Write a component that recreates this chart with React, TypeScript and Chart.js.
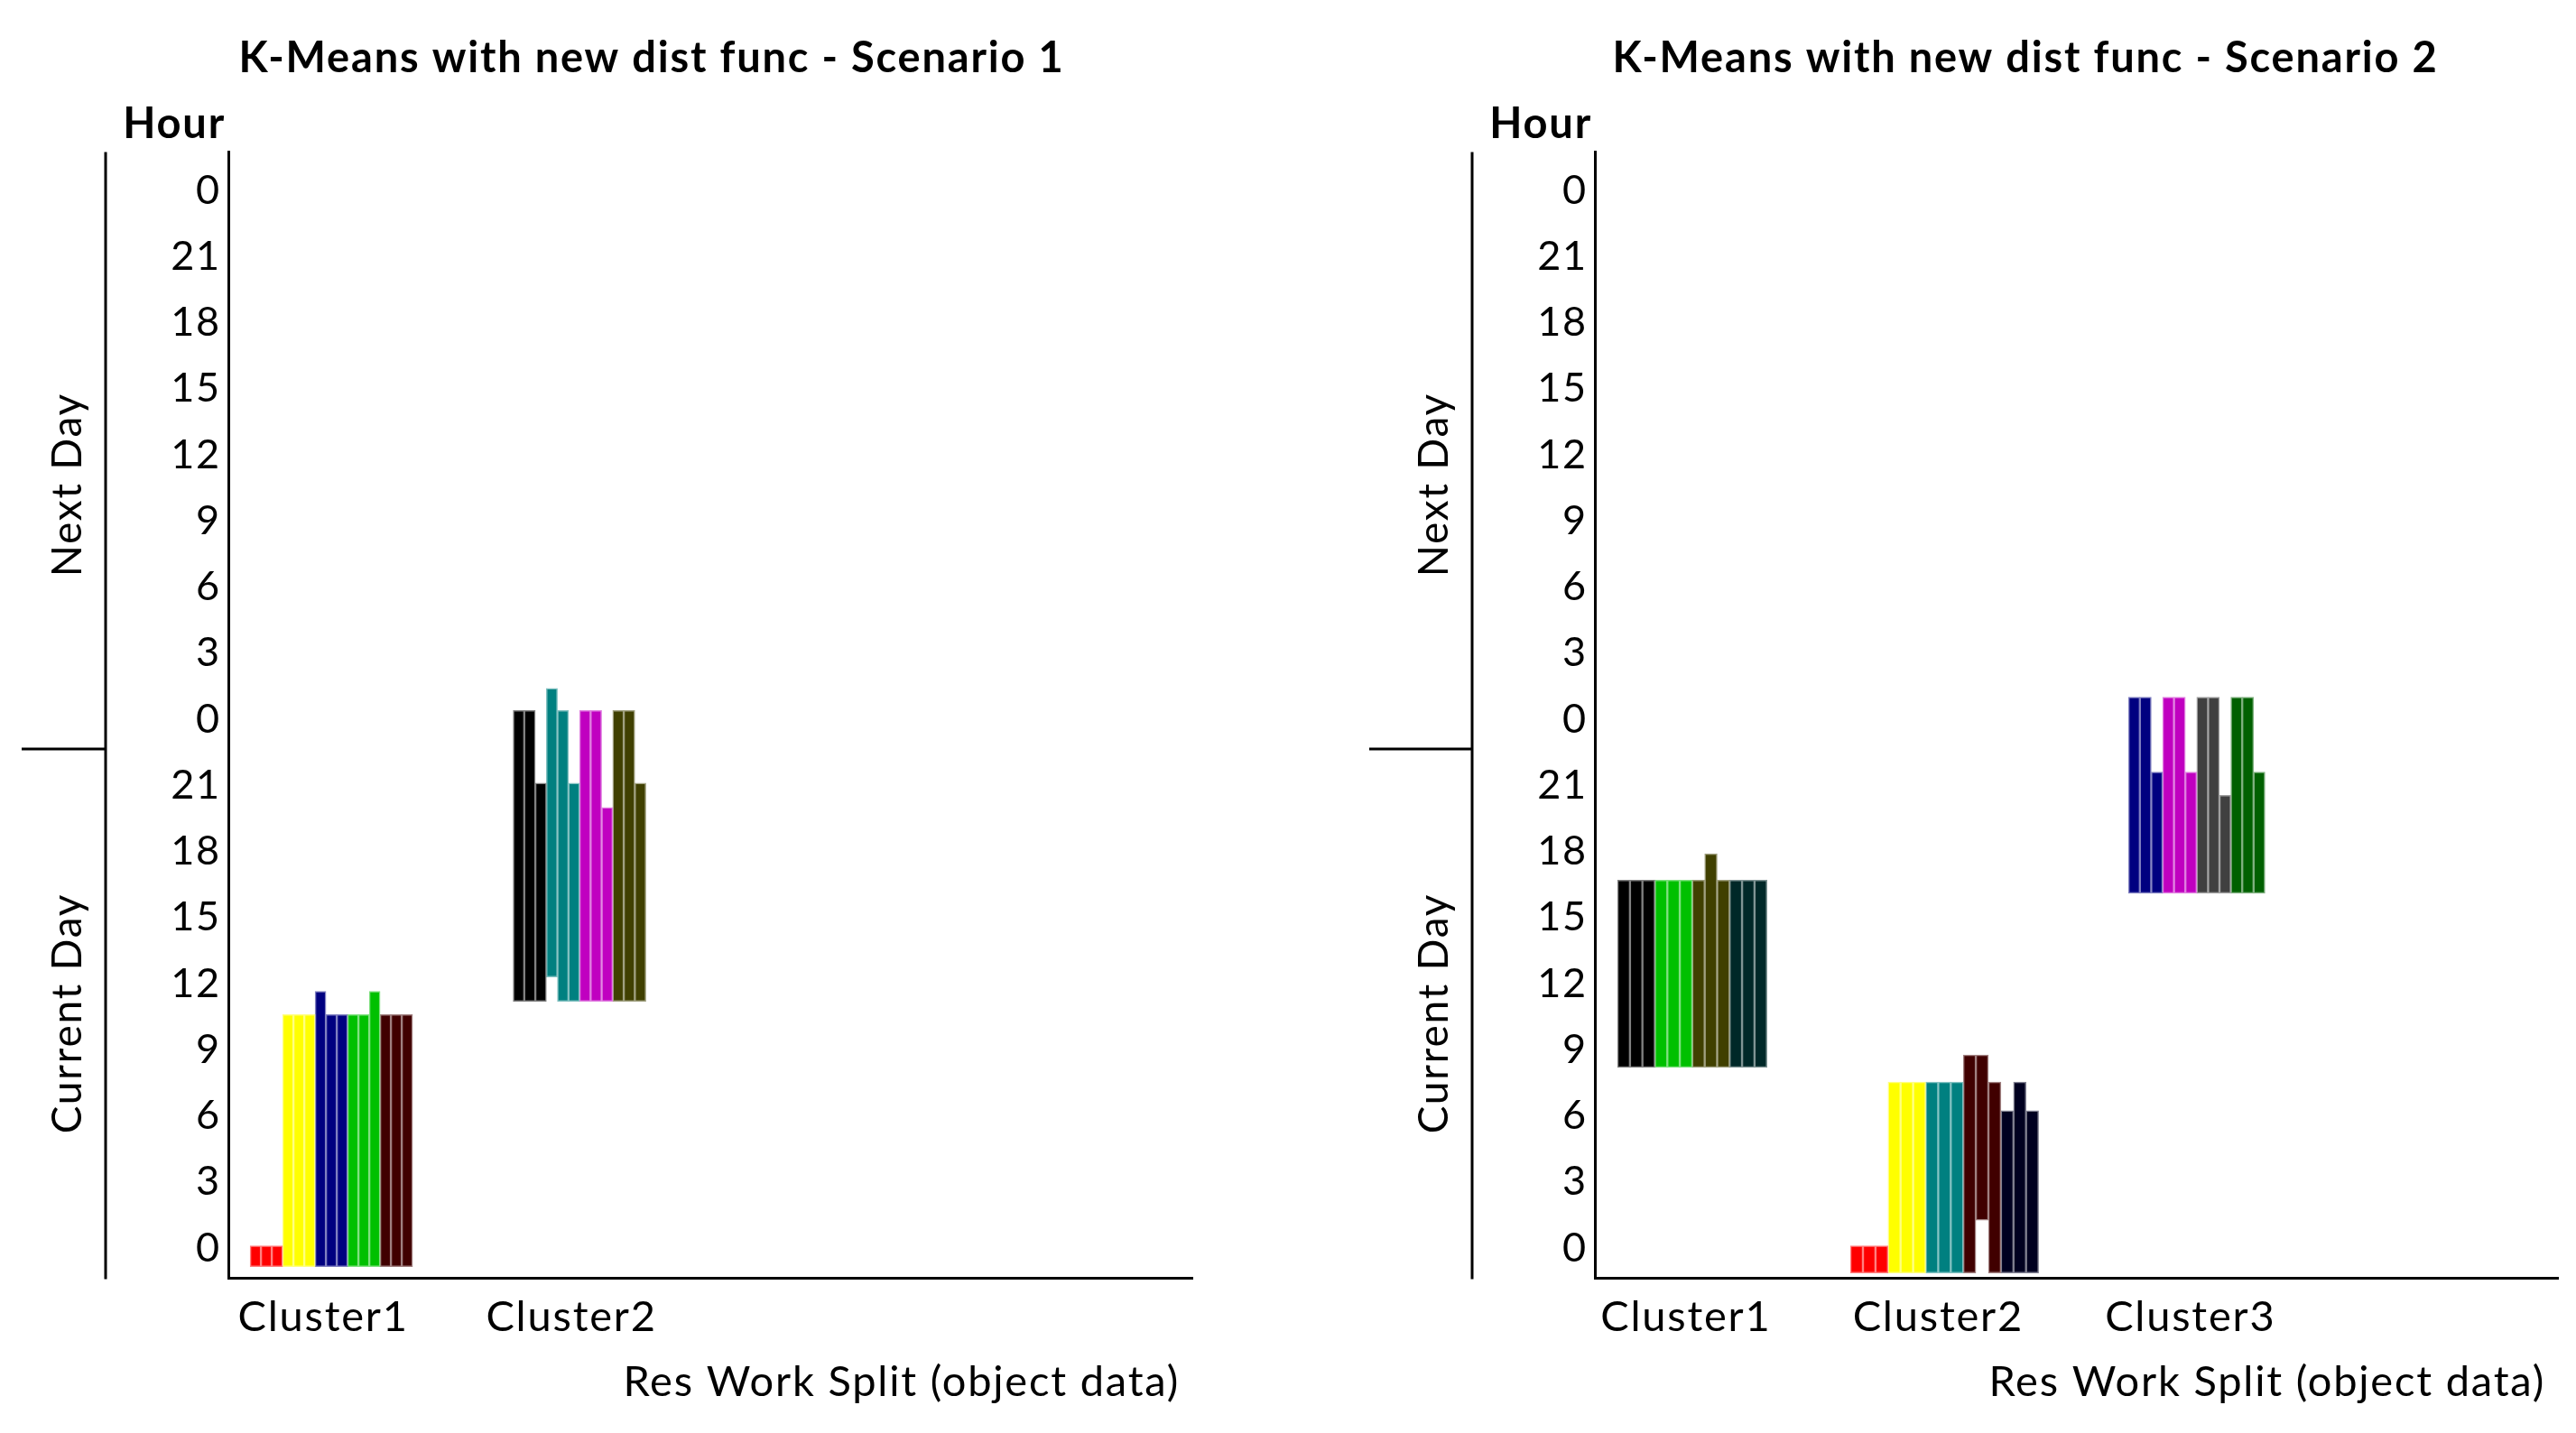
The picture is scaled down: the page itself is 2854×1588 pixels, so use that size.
import React, { useEffect, useRef } from 'react';
import { Chart, registerables } from 'chart.js';

Chart.register(...registerables);

// ---------- shared axis data ----------
const HOUR_TICKS = [0, 3, 6, 9, 12, 15, 18, 21, 24, 27, 30, 33, 36, 39, 42, 45, 48];
const Y_MIN = -1.35;
const Y_MAX = 49.75;
const DAY_SPLIT = 22.65;
const DAY_LABELS = ['Current Day', 'Next Day'];
const Y_TITLE = 'Hour';
const X_TITLE = 'Res Work Split (object data)';

// ---------- Scenario 1 ----------
const S1_TITLE = 'K-Means with new dist func - Scenario 1';
const S1_X_MIN = -0.415;
const S1_X_MAX = 3.469;
const S1_CLUSTERS = ['Cluster1', 'Cluster2'];
const S1_C1_LOW = [-0.85, -0.85, -0.85, -0.85, -0.85, -0.85, -0.85, -0.85, -0.85, -0.85, -0.85, -0.85, -0.85, -0.85, -0.85];
const S1_C1_HIGH = [0.1, 0.1, 0.1, 10.6, 10.6, 10.6, 11.65, 10.6, 10.6, 10.6, 10.6, 11.65, 10.6, 10.6, 10.6];
const S1_C1_COLORS = ['#ff0000', '#ff0000', '#ff0000', '#ffff00', '#ffff00', '#ffff00', '#000080', '#000080', '#000080', '#00c000', '#00c000', '#00c000', '#400000', '#400000', '#400000'];
const S1_C2_LOW = [11.2, 11.2, 11.2, 12.3, 11.2, 11.2, 11.2, 11.2, 11.2, 11.2, 11.2, 11.2];
const S1_C2_HIGH = [24.4, 24.4, 21.1, 25.4, 24.4, 21.1, 24.4, 24.4, 20.0, 24.4, 24.4, 21.1];
const S1_C2_COLORS = ['#000000', '#000000', '#000000', '#008080', '#008080', '#008080', '#c000c0', '#c000c0', '#c000c0', '#404000', '#404000', '#404000'];

// ---------- Scenario 2 ----------
const S2_TITLE = 'K-Means with new dist func - Scenario 2';
const S2_X_MIN = -0.386;
const S2_X_MAX = 3.432;
const S2_CLUSTERS = ['Cluster1', 'Cluster2', 'Cluster3'];
const S2_C1_LOW = [8.2, 8.2, 8.2, 8.2, 8.2, 8.2, 8.2, 8.2, 8.2, 8.2, 8.2, 8.2];
const S2_C1_HIGH = [16.7, 16.7, 16.7, 16.7, 16.7, 16.7, 16.7, 17.9, 16.7, 16.7, 16.7, 16.7];
const S2_C1_COLORS = ['#000000', '#000000', '#000000', '#00c000', '#00c000', '#00c000', '#404000', '#404000', '#404000', '#002828', '#002828', '#002828'];
const S2_C2_LOW = [-1.13, -1.13, -1.13, -1.13, -1.13, -1.13, -1.13, -1.13, -1.13, -1.13, 1.26, -1.13, -1.13, -1.13, -1.13];
const S2_C2_HIGH = [0.1, 0.1, 0.1, 7.53, 7.53, 7.53, 7.53, 7.53, 7.53, 8.76, 8.76, 7.53, 6.23, 7.53, 6.23];
const S2_C2_COLORS = ['#ff0000', '#ff0000', '#ff0000', '#ffff00', '#ffff00', '#ffff00', '#008080', '#008080', '#008080', '#400000', '#400000', '#400000', '#000020', '#000020', '#000020'];
const S2_C3_LOW = [16.1, 16.1, 16.1, 16.1, 16.1, 16.1, 16.1, 16.1, 16.1, 16.1, 16.1, 16.1];
const S2_C3_HIGH = [25.0, 25.0, 21.6, 25.0, 25.0, 21.6, 25.0, 25.0, 20.55, 25.0, 25.0, 21.6];
const S2_C3_COLORS = ['#000080', '#000080', '#000080', '#c000c0', '#c000c0', '#c000c0', '#404040', '#404040', '#404040', '#006000', '#006000', '#006000'];

// ---------- layout / style ----------
const PAGE_W = 2854;
const PAGE_H = 1588;
const FONT = 'Lato';
const TICK_Y_SIZE = 45;
const TEXT_SIZE = 47;
const DAY_SIZE = 46;
const LETTER_SPACING = '1.8px';

type Cluster = { low: number[]; high: number[]; colors: string[]; barW: number };
type ChartCfg = {
  title: string;
  names: string[];
  clusters: Cluster[];
  xMin: number;
  xMax: number;
  labelOffset: number;
  left: number;
  width: number;
  padL: number;
  padR: number;
  yAxisW: number;
  outerX: number;
  sepStart: number;
};

const CHARTS: ChartCfg[] = [
  {
    title: S1_TITLE,
    names: S1_CLUSTERS,
    clusters: [
      { low: S1_C1_LOW, high: S1_C1_HIGH, colors: S1_C1_COLORS, barW: 12 },
      { low: S1_C2_LOW, high: S1_C2_HIGH, colors: S1_C2_COLORS, barW: 12.25 },
    ],
    xMin: S1_X_MIN,
    xMax: S1_X_MAX,
    labelOffset: -9,
    left: 0,
    width: 1400,
    padL: 123,
    padR: 79,
    yAxisW: 130,
    outerX: 117,
    sepStart: 24,
  },
  {
    title: S2_TITLE,
    names: S2_CLUSTERS,
    clusters: [
      { low: S2_C1_LOW, high: S2_C1_HIGH, colors: S2_C1_COLORS, barW: 13.8 },
      { low: S2_C2_LOW, high: S2_C2_HIGH, colors: S2_C2_COLORS, barW: 13.9 },
      { low: S2_C3_LOW, high: S2_C3_HIGH, colors: S2_C3_COLORS, barW: 12.6 },
    ],
    xMin: S2_X_MIN,
    xMax: S2_X_MAX,
    labelOffset: -7,
    left: 1514,
    width: 1340,
    padL: 140,
    padR: 20,
    yAxisW: 113,
    outerX: 117,
    sepStart: 3,
  },
];

function lighten(hex: string, t = 0.5): string {
  const n = parseInt(hex.slice(1), 16);
  const r = (n >> 16) & 255, g = (n >> 8) & 255, b = n & 255;
  const m = (c: number) => Math.round(c + (255 - c) * t);
  return `rgb(${m(r)},${m(g)},${m(b)})`;
}

function buildDatasets(cfg: ChartCfg) {
  const datasets: any[] = [];
  cfg.clusters.forEach((c, ci) => {
    c.low.forEach((lo, j) => {
      datasets.push({
        data: [{ x: ci, y: [lo, c.high[j]] }],
        backgroundColor: c.colors[j],
        borderColor: lighten(c.colors[j]),
        borderWidth: 1.5,
        borderSkipped: false,
        barThickness: c.barW,
        skipNull: true,
      });
    });
  });
  return datasets;
}

const spacingPlugin = {
  id: 'letterSpacing',
  beforeLayout(chart: any) {
    chart.ctx.letterSpacing = LETTER_SPACING;
  },
  beforeDraw(chart: any) {
    chart.ctx.letterSpacing = LETTER_SPACING;
  },
};

function decoPlugin(cfg: ChartCfg) {
  return {
    id: 'deco',
    afterDraw(chart: any) {
      const { ctx, chartArea, scales } = chart;
      const y = scales.y;
      ctx.save();
      ctx.letterSpacing = LETTER_SPACING;
      ctx.strokeStyle = '#000';
      ctx.lineWidth = 3;
      ctx.beginPath();
      ctx.moveTo(cfg.outerX, chartArea.top);
      ctx.lineTo(cfg.outerX, chartArea.bottom + 1.5);
      const sy = y.getPixelForValue(DAY_SPLIT);
      ctx.moveTo(cfg.sepStart, sy);
      ctx.lineTo(cfg.outerX, sy);
      ctx.stroke();

      ctx.fillStyle = '#000';
      ctx.font = `${DAY_SIZE}px ${FONT}`;
      ctx.textAlign = 'center';
      ctx.textBaseline = 'middle';
      const centers = [DAY_SPLIT - 12, DAY_SPLIT + 12];
      DAY_LABELS.forEach((t, i) => {
        ctx.save();
        ctx.translate(75, y.getPixelForValue(centers[i]));
        ctx.rotate(-Math.PI / 2);
        ctx.fillText(t, 0, 0);
        ctx.restore();
      });

      ctx.textBaseline = 'alphabetic';
      ctx.textAlign = 'right';
      ctx.font = `bold ${TEXT_SIZE}px ${FONT}`;
      ctx.fillText(Y_TITLE, chartArea.left - 3, 153);
      ctx.font = `${TEXT_SIZE}px ${FONT}`;
      ctx.fillText(X_TITLE, chartArea.right - 14, 1547);
      ctx.restore();
    },
  };
}

function buildConfig(cfg: ChartCfg): any {
  return {
    type: 'bar',
    data: { datasets: buildDatasets(cfg) },
    options: {
      animation: false,
      responsive: false,
      devicePixelRatio: 1,
      layout: { padding: { left: cfg.padL, right: cfg.padR, top: 0, bottom: 0 } },
      plugins: {
        legend: { display: false },
        tooltip: { enabled: false },
        title: {
          display: true,
          text: cfg.title,
          color: '#000',
          font: { family: FONT, size: TEXT_SIZE, weight: 'bold' },
          padding: { top: 37, bottom: 75 },
        },
      },
      scales: {
        x: {
          type: 'linear',
          min: cfg.xMin,
          max: cfg.xMax,
          offset: false,
          bounds: 'data',
          grid: { display: false, drawTicks: false, offset: false },
          border: { display: true, color: '#000', width: 3 },
          ticks: {
            color: '#000',
            font: { family: FONT, size: TEXT_SIZE },
            padding: 16,
            labelOffset: cfg.labelOffset,
            autoSkip: false,
            maxRotation: 0,
            callback: (v: number) => cfg.names[v] ?? '',
          },
          afterBuildTicks: (s: any) => {
            s.ticks = cfg.names.map((_, i) => ({ value: i }));
          },
          afterFit: (s: any) => {
            s.height = 172;
          },
        },
        y: {
          type: 'linear',
          min: Y_MIN,
          max: Y_MAX,
          grid: { display: false, drawTicks: false },
          border: { display: true, color: '#000', width: 3 },
          ticks: {
            color: '#000',
            font: { family: FONT, size: TICK_Y_SIZE },
            padding: 8,
            autoSkip: false,
            callback: (v: number) => String(v % 24),
          },
          afterBuildTicks: (s: any) => {
            s.ticks = HOUR_TICKS.map((v) => ({ value: v }));
          },
          afterFit: (s: any) => {
            s.width = cfg.yAxisW;
          },
        },
      },
    },
    plugins: [spacingPlugin, decoPlugin(cfg)],
  };
}

function ChartCanvas({ cfg }: { cfg: ChartCfg }) {
  const ref = useRef<HTMLCanvasElement>(null);
  useEffect(() => {
    const chart = new Chart(ref.current as HTMLCanvasElement, buildConfig(cfg));
    return () => chart.destroy();
  }, [cfg]);
  return (
    <canvas
      ref={ref}
      width={cfg.width}
      height={PAGE_H}
      style={{ position: 'absolute', left: cfg.left, top: 0, width: cfg.width, height: PAGE_H }}
    />
  );
}

export default function App() {
  return (
    <div
      style={{
        position: 'fixed',
        left: 0,
        top: 0,
        width: PAGE_W,
        height: PAGE_H,
        background: '#fff',
        overflow: 'hidden',
      }}
    >
      {CHARTS.map((c, i) => (
        <ChartCanvas key={i} cfg={c} />
      ))}
    </div>
  );
}
